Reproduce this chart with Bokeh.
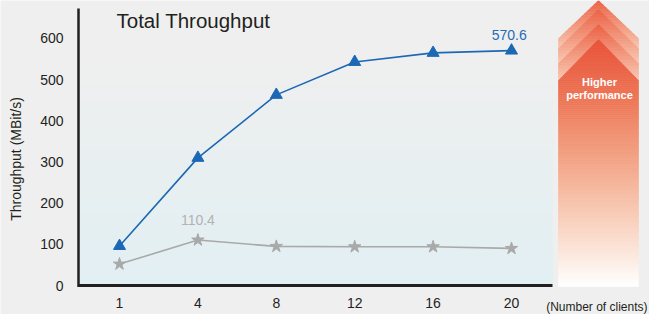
import numpy as np
from bokeh.plotting import figure
from bokeh.models import Range1d, FixedTicker
from bokeh.embed import file_html
from bokeh.resources import INLINE
from bokeh.core.properties import value

# ---------------- data ----------------
clients = ["1", "4", "8", "12", "16", "20"]
throughput_new = [96, 310, 463, 543, 565, 570.6]
throughput_old = [52, 110.4, 95, 94, 94, 90]
y_ticks = [0, 100, 200, 300, 400, 500, 600]
title_text = "Total Throughput"
y_label = "Throughput (MBit/s)"
x_label = "(Number of clients)"
arrow_text = ["Higher", "performance"]

# ---------------- layout helpers (reference-pixel based) ----------------
FONT = "Liberation Sans"
DARK = "#231f20"
BLUE = "#1c68b4"
GREY = "#a9a9a9"
W, H = 649, 314
X0, PXC = 119.0, 78.4
Y0, PXV = 285.0, 0.4117


def rx(a):
    return (a - X0) / PXC


def ry(a):
    return (Y0 - a) / PXV


def hex2rgb(h):
    h = h.lstrip("#")
    return np.array([int(h[i:i + 2], 16) for i in (0, 2, 4)], dtype=float)


def grad(stops, y):
    ys = [s[0] for s in stops]
    cols = [hex2rgb(s[1]) for s in stops]
    c = cols[-1]
    if y <= ys[0]:
        c = cols[0]
    else:
        for i in range(len(ys) - 1):
            if ys[i] <= y <= ys[i + 1]:
                t = (y - ys[i]) / (ys[i + 1] - ys[i])
                c = cols[i] * (1 - t) + cols[i + 1] * t
                break
    return "#%02x%02x%02x" % tuple(int(round(v)) for v in c)


def clip_poly(pts, ylo, yhi):
    def clip(pts, inside, yc):
        out = []
        for i in range(len(pts)):
            cur, prev = pts[i], pts[i - 1]

            def inter(a, b):
                t = (yc - a[1]) / (b[1] - a[1])
                return (a[0] + t * (b[0] - a[0]), yc)
            if inside(cur):
                if not inside(prev):
                    out.append(inter(prev, cur))
                out.append(cur)
            elif inside(prev):
                out.append(inter(prev, cur))
        return out
    pts = clip(pts, lambda q: q[1] >= ylo, ylo)
    if not pts:
        return []
    return clip(pts, lambda q: q[1] <= yhi, yhi)


def gradient_patches(p, poly, stops, step=2.0):
    ys = [q[1] for q in poly]
    y, ymax = min(ys), max(ys)
    xs_all, ys_all, cols = [], [], []
    while y < ymax:
        piece = clip_poly(poly, y, min(y + step, ymax))
        if len(piece) >= 3:
            xs_all.append([rx(q[0]) for q in piece])
            ys_all.append([ry(q[1]) for q in piece])
            cols.append(grad(stops, y + step / 2))
        y += step
    p.patches(xs_all, ys_all, fill_color=cols, line_color=cols, line_width=0.6)


# ---------------- figure ----------------
p = figure(width=W, height=H, output_backend="svg", toolbar_location=None,
           x_range=Range1d(rx(0), rx(W)), y_range=Range1d(ry(H), ry(0)),
           min_border=0)
p.outline_line_color = None
p.background_fill_color = "#efefef"
p.border_fill_color = "#efefef"
p.xgrid.visible = False
p.ygrid.visible = False

# plot-area gradient background
bg_stops = [(60, "#efefef"), (285, "#e1eff3")]
tops, bots, cols = [], [], []
y = 8.0
while y < 285:
    y2 = min(y + 3, 285)
    tops.append(ry(y))
    bots.append(ry(y2))
    cols.append(grad(bg_stops, y + 1.5))
    y += 3
p.quad(left=rx(78), right=rx(552), top=tops, bottom=bots,
       fill_color=cols, line_color=cols, line_width=0.6)

# axis lines
p.segment(x0=[rx(78)], y0=[0], x1=[rx(552)], y1=[0], line_color=DARK, line_width=3)
p.segment(x0=[rx(78)], y0=[ry(286.5)], x1=[rx(78)], y1=[ry(8)], line_color=DARK, line_width=2.5)

# performance arrow
tips = [0, 9, 24, 39]
shoulders = [38, 48, 63, 80]
for k in range(3):
    band = [(558, shoulders[k]), (598, tips[k]), (638, shoulders[k]),
            (638, shoulders[k + 1]), (598, tips[k + 1]), (558, shoulders[k + 1])]
    gradient_patches(p, band, [(tips[k], "#eb6245"), (shoulders[k + 1], "#f9c8b2")], step=1.5)
body = [(558, 80), (598, 39), (638, 80), (638, 286), (558, 286)]
gradient_patches(p, body, [(39, "#e8523a"), (100, "#ed7656"), (130, "#f08e6e"),
                           (160, "#f3a385"), (210, "#f8c8b2"), (255, "#fce8de"),
                           (286, "#ffffff")], step=2.0)
p.text(x=[rx(599), rx(599)], y=[ry(81.5), ry(94.5)], text=arrow_text,
       text_color="white", text_font=value(FONT), text_font_style="bold",
       text_font_size="11px", text_align="center", text_baseline="middle")

# series
idx = list(range(len(clients)))
p.line(idx, throughput_old, line_color=GREY, line_width=1.6)
p.scatter(idx, throughput_old, marker="star", size=13, fill_color=GREY, line_color=GREY)
p.line(idx, throughput_new, line_color=BLUE, line_width=1.6)
p.scatter(idx, throughput_new, marker="triangle", size=12, fill_color=BLUE, line_color=BLUE)

# value labels
p.text(x=[idx[-1] - 0.03], y=[throughput_new[-1]], text=[str(throughput_new[-1])],
       y_offset=-16, text_color="#1f6cb5", text_font=value(FONT), text_font_size="14px",
       text_align="center", text_baseline="middle")
p.text(x=[idx[1]], y=[throughput_old[1]], text=[str(throughput_old[1])],
       y_offset=-20, text_color="#b2b2b2", text_font=value(FONT), text_font_size="14px",
       text_align="center", text_baseline="middle")

# axes (drawn at fixed locations inside the canvas)
p.yaxis.fixed_location = rx(78)
p.yaxis.ticker = FixedTicker(ticks=y_ticks)
p.yaxis.axis_line_color = None
p.yaxis.major_tick_line_color = None
p.yaxis.minor_tick_line_color = None
p.yaxis.major_tick_out = 0
p.yaxis.major_label_standoff = 15
p.yaxis.major_label_text_font = FONT
p.yaxis.major_label_text_font_size = "14px"
p.yaxis.major_label_text_color = DARK

p.xaxis.fixed_location = 0
p.xaxis.ticker = FixedTicker(ticks=idx)
p.xaxis.major_label_overrides = {i: c for i, c in enumerate(clients)}
p.xaxis.axis_line_color = None
p.xaxis.major_tick_line_color = None
p.xaxis.minor_tick_line_color = None
p.xaxis.major_tick_out = 0
p.xaxis.major_label_standoff = 12
p.xaxis.major_label_text_font = FONT
p.xaxis.major_label_text_font_size = "14px"
p.xaxis.major_label_text_color = DARK

# title and axis captions
p.text(x=[rx(116)], y=[ry(20)], text=[title_text], text_font=value(FONT),
       text_font_size="20.5px", text_color=DARK, text_baseline="middle")
p.text(x=[rx(15)], y=[ry(158.5)], text=[y_label], angle=np.pi / 2, text_font=value(FONT),
       text_font_size="14px", text_color=DARK, text_align="center", text_baseline="middle")
p.text(x=[rx(647)], y=[ry(306)], text=[x_label], text_font=value(FONT),
       text_font_size="12px", text_color=DARK, text_align="right", text_baseline="middle")

open("out.html", "w").write(file_html(p, INLINE))
